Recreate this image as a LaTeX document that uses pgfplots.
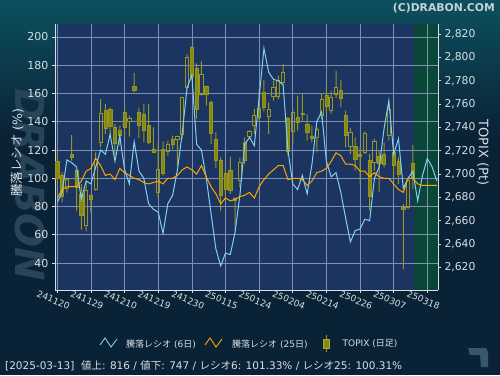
\documentclass[border=0pt]{standalone}
\usepackage{pgfplots}
\pgfplotsset{compat=1.18}
\usepackage{pgfplotstable}
\usepackage{fontspec}
\setmainfont{DejaVu Sans}
\newfontfamily\jp{Noto Sans CJK JP}
\definecolor{outerbg}{RGB}{10,34,54}
\definecolor{outertop}{RGB}{12,80,95}
\definecolor{plotbg}{RGB}{27,52,96}
\definecolor{greenbg}{RGB}{10,70,56}
\definecolor{gridc}{RGB}{125,142,178}
\definecolor{txt}{RGB}{215,222,228}
\definecolor{blueline}{RGB}{130,208,240}
\definecolor{orangeline}{RGB}{255,165,0}
\definecolor{candlefill}{RGB}{135,135,20}
\definecolor{candleline}{RGB}{150,150,35}
\definecolor{wm}{RGB}{40,68,88}
\definecolor{icon}{RGB}{55,88,108}

\pgfplotstableread{
x o h l c
0 2710.6 2718.6 2690.0 2696.6
1 2699.2 2701.4 2675.7 2680.9
2 2688.0 2697.0 2684.0 2695.4
3 2717.1 2733.4 2711.4 2714.3
4 2703.4 2704.0 2668.6 2688.6
5 2682.9 2691.4 2652.3 2664.3
6 2655.7 2694.3 2650.9 2686.3
7 2681.4 2682.0 2667.0 2678.6
8 2687.2 2718.6 2685.7 2712.9
9 2727.1 2764.3 2722.9 2752.0
10 2754.9 2760.0 2734.3 2739.1
11 2755.7 2757.1 2732.9 2740.9
12 2740.0 2742.9 2715.7 2726.3
13 2737.7 2741.4 2724.3 2732.9
14 2752.9 2757.7 2731.4 2740.0
15 2745.1 2750.0 2732.0 2747.7
16 2774.9 2786.6 2770.0 2771.4
17 2753.0 2757.0 2731.0 2742.0
18 2750.9 2760.0 2727.2 2737.1
19 2741.4 2760.0 2725.7 2727.2
20 2721.5 2740.0 2718.0 2718.6
21 2684.3 2727.1 2680.0 2704.3
22 2721.2 2728.0 2698.6 2700.6
23 2719.4 2728.6 2715.7 2725.7
24 2730.0 2732.9 2721.4 2725.7
25 2729.7 2733.0 2707.2 2732.3
26 2734.3 2766.3 2730.0 2765.7
27 2774.3 2802.9 2772.9 2800.0
28 2808.6 2810.0 2781.4 2783.5
29 2790.9 2794.9 2747.2 2755.2
30 2768.6 2796.6 2767.2 2785.7
31 2774.9 2775.7 2758.6 2768.6
32 2761.4 2762.9 2725.7 2734.9
33 2729.7 2735.7 2705.2 2712.0
34 2711.4 2714.3 2668.6 2681.4
35 2701.0 2703.0 2678.0 2687.0
36 2703.5 2714.9 2682.9 2686.3
37 2679.5 2680.0 2652.0 2677.7
38 2694.3 2714.3 2688.6 2710.0
39 2727.2 2731.4 2708.6 2712.0
40 2732.0 2737.7 2730.0 2736.6
41 2742.0 2755.7 2734.3 2750.6
42 2756.6 2772.0 2745.7 2748.6
43 2770.0 2780.6 2753.7 2757.2
44 2749.5 2761.4 2734.3 2755.7
45 2766.3 2780.0 2762.9 2774.3
46 2766.3 2784.3 2764.3 2780.0
47 2778.6 2794.3 2775.7 2787.2
48 2747.7 2749.2 2715.7 2719.2
49 2736.6 2755.7 2725.7 2752.9
50 2748.6 2767.2 2737.2 2744.3
51 2752.3 2768.6 2745.7 2750.9
52 2742.9 2751.4 2728.6 2735.7
53 2732.6 2741.4 2727.2 2730.6
54 2731.4 2740.0 2718.6 2738.6
55 2750.0 2769.2 2747.2 2764.3
56 2767.2 2775.7 2752.9 2757.7
57 2754.9 2771.4 2751.5 2765.7
58 2768.6 2788.6 2765.2 2774.3
59 2772.0 2780.6 2757.2 2765.2
60 2750.6 2754.3 2722.9 2732.9
61 2723.5 2739.5 2717.2 2735.7
62 2723.7 2731.4 2702.9 2712.9
63 2717.2 2722.9 2691.4 2714.9
64 2718.6 2736.6 2717.2 2735.2
65 2712.0 2717.2 2668.6 2680.6
66 2710.0 2730.0 2702.9 2728.0
67 2715.2 2720.6 2684.3 2709.2
68 2717.2 2727.2 2705.7 2708.6
69 2732.9 2759.5 2728.6 2755.7
70 2718.6 2724.3 2697.2 2707.2
71 2710.6 2714.3 2691.4 2700.0
72 2671.4 2674.3 2618.6 2669.7
73 2671.4 2695.7 2670.0 2694.3
74 2709.2 2724.9 2687.2 2697.2
}\candles

\pgfplotstableread{
x r6 r25
0 83 86
1 90 92
2 113 94
3 111 94
4 108 94
5 85 98
6 98 105
7 96 107
8 108 114
9 120 109
10 117 102
11 131 103
12 112 99
13 130 107
14 106 104
15 96 102
16 126 100
17 105 99
18 100 97
19 82 96
20 78 97
21 76 98
22 61 96
23 82 100
24 88 100
25 106 102
26 132 106
27 164 108
28 173 106
29 124 103
30 120 109
31 100 101
32 75 94
33 50 89
34 38 82
35 47 86
36 46 84
37 62 85
38 88 87
39 124 88
40 129 90
41 123 86
42 157 94
43 192 99
44 175 103
45 170 106
46 169 109
47 166 109
48 120 99
49 96 100
50 92 100
51 102 99
52 89 95
53 110 98
54 140 104
55 147 105
56 112 107
57 101 112
58 104 118
59 90 116
60 72 110
61 55 110
62 63 109
63 64 105
64 71 105
65 70 101
66 100 104
67 108 101
68 135 100
69 155 100
70 117 96
71 128 92
72 93 90
73 100 100
74 105 100
75 84 96
76 102 95
77 114 95
78 108 95
79 98 95
}\ratios

\pgfplotsset{
  common/.style={
    at={(55pt,85pt)}, anchor=south west,
    width=383pt, height=266pt, scale only axis,
    xmin=-0.48, xmax=79.23,
  },
  leftscale/.style={ymin=20.9, ymax=209.2},
  rightscale/.style={ymin=2600.6, ymax=2828.6},
}

\begin{document}
\begin{tikzpicture}[x=1pt,y=1pt]
\useasboundingbox (0,0) rectangle (500,375);
\fill[outerbg] (0,0) rectangle (500,375);
\shade[top color=outertop, bottom color=outerbg] (0,240) rectangle (500,375);
% watermark
\node[rotate=-90, inner sep=0, text=wm, font=\bfseries\itshape\fontsize{40}{40}\selectfont] at (30,190) {DRABON};
% plot backgrounds
\fill[plotbg] (55,85) rectangle (438,351);
\fill[greenbg] (413.8,85) rectangle (438,351);

% grid + left / bottom axes
\begin{axis}[common, leftscale,
  axis x line*=bottom, axis y line*=left,
  axis line style={draw=txt, line width=0.8pt},
  xtick={0,7,...,77},
  xticklabels={241120,241129,241210,241219,241230,250115,250124,250204,250214,250226,250307,250318},
  ytick={40,60,...,200},
  grid=major, major grid style={draw=gridc, line width=0.6pt},
  tick style={draw=txt, line width=0.6pt},
  tick align=outside, major tick length=3pt,
  ticklabel style={text=txt},
  y tick label style={font=\fontsize{11}{11}\selectfont},
  x tick label style={font=\fontsize{9}{9}\selectfont, rotate=-22, anchor=center, xshift=-1pt, yshift=-8pt},
  /pgf/number format/assume math mode=true,
]
\addplot[draw=none] coordinates {(0,100)};
\end{axis}

% wicks
\begin{axis}[common, rightscale, hide axis, ybar stacked, bar width=1pt]
\addplot[draw=none, fill=none] table[x=x, y=l] {\candles};
\addplot[draw=none, fill=candleline] table[x=x, y expr={min(\thisrow{o},\thisrow{c})-\thisrow{l}}] {\candles};
\addplot[draw=none, fill=none] table[x=x, y expr={abs(\thisrow{c}-\thisrow{o})}] {\candles};
\addplot[draw=none, fill=candleline] table[x=x, y expr={\thisrow{h}-max(\thisrow{o},\thisrow{c})}] {\candles};
\end{axis}

% bodies + right axis
\begin{axis}[common, rightscale, ybar stacked, bar width=3.2pt,
  axis x line=none, axis y line*=right,
  axis line style={draw=txt, line width=0.8pt},
  ytick={2620,2640,...,2820},
  scaled y ticks=false,
  tick style={draw=txt, line width=0.6pt},
  tick align=outside, major tick length=3pt,
  y tick label style={text=txt, font=\fontsize{10.8}{11}\selectfont, /pgf/number format/1000 sep={,}},
  /pgf/number format/assume math mode=true,
]
\addplot[draw=none, fill=none] table[x=x, y expr={min(\thisrow{o},\thisrow{c})}] {\candles};
\addplot[draw=candleline, fill=none, line width=0.9pt] table[x=x, y expr={max(\thisrow{c}-\thisrow{o},0)}] {\candles};
\addplot[draw=candleline, fill=candlefill, line width=0.5pt] table[x=x, y expr={max(\thisrow{o}-\thisrow{c},0)}] {\candles};
\end{axis}

% ratio lines
\begin{axis}[common, leftscale, hide axis]
\addplot[blueline, line width=1pt] table[x=x, y=r6] {\ratios};
\addplot[orangeline, line width=1pt] table[x=x, y=r25] {\ratios};
\end{axis}

% axis titles
\node[rotate=90, text=txt, inner sep=0, font=\fontsize{12.5}{13}\selectfont] at (17.5,222.5) {{\jp 騰落レシオ} (\%)};
\node[rotate=-90, text=txt, inner sep=0, font=\fontsize{13}{13}\selectfont] at (483,222.5) {TOPIX (Pt)};

% copyright
\node[anchor=east, inner sep=0, text={rgb,255:red,200;green,208;blue,212}, font=\bfseries\fontsize{10.8}{11}\selectfont] at (495,367) {(C)DRABON.COM};

% legend
\draw[blueline, line width=0.9pt] (100,30) -- (105,37) -- (111,28) -- (117,36);
\node[anchor=west, inner sep=0, text=txt, font=\fontsize{9}{9}\selectfont] at (126,31) {{\jp 騰落レシオ} (6{\jp 日})};
\draw[orangeline, line width=0.9pt] (205,30) -- (210,37) -- (216,28) -- (222,36);
\node[anchor=west, inner sep=0, text=txt, font=\fontsize{9}{9}\selectfont] at (232,31) {{\jp 騰落レシオ} (25{\jp 日})};
\draw[candleline, line width=1pt] (326.7,40) -- (326.7,23.3);
\filldraw[fill=candlefill, draw={rgb,255:red,170;green,170;blue,40}, line width=0.6pt] (323.7,26.7) rectangle (329.7,35.7);
\node[anchor=west, inner sep=0, text=txt, font=\fontsize{9}{9}\selectfont] at (342.5,31) {TOPIX ({\jp 日足})};

% status line
\node[anchor=west, inner sep=0, text=txt, font=\fontsize{10.5}{11}\selectfont] at (5,9) {[2025-03-13]\ \ {\jp 値上}: 816 / {\jp 値下}: 747 / {\jp レシオ}6: 101.33\% / {\jp レシオ}25: 100.31\%};

% corner icon
\fill[icon] (468,27) -- (486,27) -- (488,23) -- (488,8) -- (481,8) -- (480,20) -- (470,20) -- cycle;
\end{tikzpicture}
\end{document}
